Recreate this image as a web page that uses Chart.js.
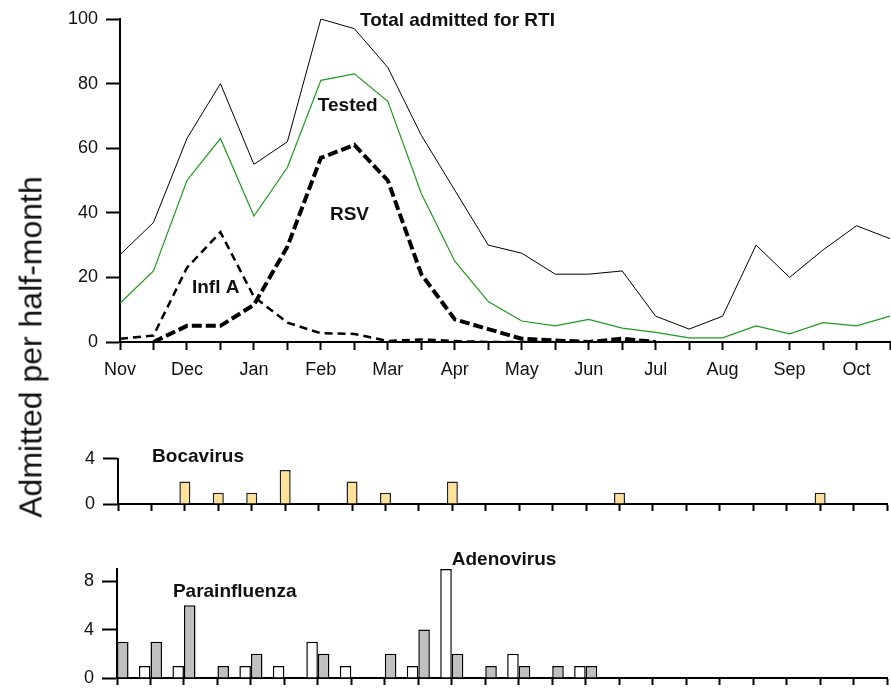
<!DOCTYPE html>
<html><head><meta charset="utf-8">
<script src="https://cdn.jsdelivr.net/npm/chart.js@4.4.1/dist/chart.umd.min.js"></script>
<style>
html,body{margin:0;padding:0;background:#fff;width:891px;height:689px;overflow:hidden;position:relative}
canvas{position:absolute;left:0}
#ytitle{position:absolute;left:31px;top:347px;transform:translate(-50%,-50%) rotate(-90deg);font:32px "Liberation Sans",Arial,sans-serif;white-space:nowrap;color:#111}
</style></head><body>
<canvas id="c1" width="899" height="390" style="top:0"></canvas>
<canvas id="c2" width="891" height="86" style="top:440px"></canvas>
<canvas id="c3" width="891" height="152" style="top:548px"></canvas>
<div id="ytitle">Admitted per half-month</div>
<script>
// ---- data (half-month periods, Nov .. Oct) ----
const months = ['Nov','','Dec','','Jan','','Feb','','Mar','','Apr','','May','','Jun','','Jul','','Aug','','Sep','','Oct',''];
const totalAdmitted = [27,37,63,80,55,62,100,97,85,64,47,30,27.5,21,21,22,8,4,8,30,20,28.5,36,32];
const tested = [12,22,50,63,39,54,81,83,74.5,46,25,12.5,6.5,5,7,4.3,3,1.3,1.3,5,2.5,6,5,8];
const rsv = [null,0,5,5,11.5,29.5,57,61,50,21,7,4,1,0.5,0,1,0,null,null,null,null,null,null,null];
const inflA = [1,2,23,34,14,6,2.7,2.5,0.3,0.8,0.3,0,0,0,0,0,0,null,null,null,null,null,null,null];
const bocavirus = [0,0,2,1,1,3,0,2,1,0,2,0,0,0,0,1,0,0,0,0,0,1,0,0];
const adenovirus = [0,1,1,0,1,1,3,1,0,1,9,0,2,0,1,0,0,0,0,0,0,0,0,0];
const parainfluenza = [3,3,6,1,2,0,2,0,2,4,2,1,1,1,1,0,0,0,0,0,0,0,0,1];
const topTicks = [0,20,40,60,80,100];
const bocaTicks = [0,4];
const bottomTicks = [0,4,8];

Chart.defaults.devicePixelRatio = 1;
Chart.defaults.font.family = '"Liberation Sans", Arial, sans-serif';

const labelPlugin = {
  id: 'textLabels',
  afterDatasetsDraw(chart, args, opts) {
    const ctx = chart.ctx, xs = chart.scales.x, ys = chart.scales.y;
    ctx.save();
    ctx.font = 'bold 19px "Liberation Sans", Arial, sans-serif';
    ctx.fillStyle = '#111';
    ctx.textBaseline = 'middle';
    ctx.textAlign = 'left';
    (opts.items || []).forEach(it => ctx.fillText(it.text, xs.getPixelForValue(it.x), ys.getPixelForValue(it.y)));
    ctx.restore();
  }
};

const tickFont = {family: '"Liberation Sans", Arial, sans-serif', size: 18};

function xAxis(height, tickLen, showLabels) {
  return {
    type: 'category', offset: false, z: 1,
    grid: {display: true, offset: false, drawOnChartArea: false, drawTicks: true, tickLength: tickLen, tickWidth: 2, tickColor: '#000'},
    border: {display: true, color: '#000', width: 2},
    ticks: {autoSkip: false, maxRotation: 0, minRotation: 0, padding: showLabels ? 9 : 0, color: '#111', font: tickFont,
      callback: function(v, i) { return showLabels ? months[i] : ''; }},
    afterFit: s => { s.height = height; }
  };
}
function yAxis(width, max, tickLen, keep) {
  return {
    min: 0, max: max,
    grid: {display: true, drawOnChartArea: false, drawTicks: true, tickLength: tickLen, tickWidth: 2, tickColor: '#000'},
    border: {display: true, color: '#000', width: 2},
    ticks: {padding: 8, color: '#111', font: tickFont},
    afterBuildTicks: s => { s.ticks = keep.map(v => ({value: v})); },
    afterFit: s => { s.width = width; }
  };
}
const common = {responsive: false, animation: false, events: []};

new Chart(document.getElementById('c1'), {
  type: 'line',
  data: {labels: months, datasets: [
    {label: 'Total admitted for RTI', data: totalAdmitted, borderColor: '#000', borderWidth: 1, pointRadius: 0, tension: 0},
    {label: 'Tested', data: tested, borderColor: '#1f9a1f', borderWidth: 1.2, pointRadius: 0, tension: 0},
    {label: 'RSV', data: rsv, borderColor: '#000', borderWidth: 4, borderDash: [10, 4], pointRadius: 0, tension: 0},
    {label: 'Infl A', data: inflA, borderColor: '#000', borderWidth: 2.5, borderDash: [8, 5], pointRadius: 0, tension: 0}
  ]},
  options: Object.assign({}, common, {
    layout: {padding: {left: 0, right: 1, top: 19, bottom: 0}},
    scales: {x: Object.assign(xAxis(48, 8, true), {z: 0}), y: yAxis(120, 100, 14, topTicks)},
    plugins: {legend: {display: false}, tooltip: {enabled: false},
      textLabels: {items: [
        {text: 'Total admitted for RTI', x: 7.17, y: 99.4},
        {text: 'Tested', x: 5.91, y: 73},
        {text: 'RSV', x: 6.27, y: 39.3},
        {text: 'Infl A', x: 2.15, y: 16.7}
      ]}}
  }),
  plugins: [labelPlugin]
});

new Chart(document.getElementById('c2'), {
  type: 'bar',
  data: {labels: months, datasets: [
    {label: 'Bocavirus', data: bocavirus, backgroundColor: '#FFE199', borderColor: '#222', borderWidth: 1.5, barPercentage: 1, categoryPercentage: 0.33}
  ]},
  options: Object.assign({}, common, {
    layout: {padding: {left: 0, right: 4, top: 18, bottom: 0}},
    scales: {x: xAxis(22, 7, false), y: yAxis(118, 4, 15, bocaTicks)},
    plugins: {legend: {display: false}, tooltip: {enabled: false},
      textLabels: {items: [{text: 'Bocavirus', x: 1.02, y: 4.2}]}}
  }),
  plugins: [labelPlugin]
});

new Chart(document.getElementById('c3'), {
  type: 'bar',
  data: {labels: months, datasets: [
    {label: 'Adenovirus', data: adenovirus, backgroundColor: '#fff', borderColor: '#000', borderWidth: 1.5, barPercentage: 1, categoryPercentage: 0.69},
    {label: 'Parainfluenza', data: parainfluenza, backgroundColor: '#C0C0C0', borderColor: '#000', borderWidth: 1.5, barPercentage: 1, categoryPercentage: 0.69}
  ]},
  options: Object.assign({}, common, {
    layout: {padding: {left: 0, right: 4, top: 21, bottom: 0}},
    scales: {x: xAxis(22, 7, false), y: yAxis(117, 9, 15, bottomTicks)},
    plugins: {legend: {display: false}, tooltip: {enabled: false},
      textLabels: {items: [
        {text: 'Parainfluenza', x: 1.67, y: 7.1},
        {text: 'Adenovirus', x: 10.0, y: 9.75}
      ]}}
  }),
  plugins: [labelPlugin]
});
</script>
</body></html>
